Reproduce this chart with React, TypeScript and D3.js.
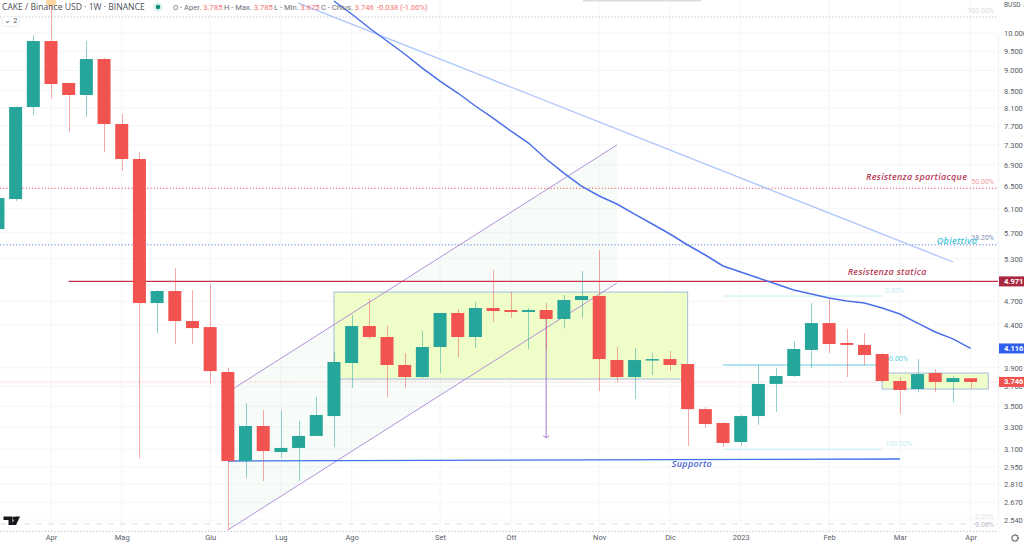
import * as d3 from "d3";
import { useEffect, useRef } from "react";

const WIDTH = 1024;
const HEIGHT = 545;
const PANE_RIGHT = 998;
const PANE_BOTTOM = 532;

// weekly candles, first one is 14 Mar 2022
const weeks = d3.utcMonday.range(new Date(Date.UTC(2022, 2, 14)), new Date(Date.UTC(2023, 3, 4)));

const opens = [
  5.76, 6.267, 8.12, 9.776, 8.687, 8.399, 9.294, 7.74, 7.014, 4.677, 4.838, 4.446, 4.371, 3.852,
  2.999, 3.309, 3.076, 3.111, 3.218, 3.403, 3.951, 4.384, 4.251, 3.929, 3.798, 4.133, 4.548, 4.251,
  4.612, 4.586, 4.561, 4.586, 4.472, 4.717, 4.771, 3.984, 3.798, 3.984, 3.995, 3.94, 3.47, 3.337,
  3.164, 3.403, 3.725, 3.809, 4.099, 4.421, 4.18, 4.157, 4.052, 3.756, 3.672, 3.841, 3.745, 3.785,
];
const highs = [
  6.285, 8.13, 9.944, 11.13, 8.687, 9.776, 9.321, 7.962, 7.154, 4.851, 5.16, 4.851, 4.934, 3.896,
  3.53, 3.461, 3.461, 3.356, 3.59, 4.076, 4.523, 4.729, 4.384, 4.064, 4.323, 4.548, 4.599, 4.69,
  5.132, 4.824, 4.612, 4.677, 4.784, 5.118, 5.43, 4.133, 4.122, 4.064, 4.087, 3.94, 3.49, 3.346,
  3.413, 3.929, 3.896, 4.204, 4.677, 4.744, 4.35, 4.299, 4.064, 3.798, 3.995, 3.885, 3.809, 3.785,
];
const lows = [
  5.76, 6.232, 7.939, 8.328, 7.568, 7.895, 7.154, 6.781, 3.024, 4.299, 4.168, 4.168, 3.725, 2.47,
  2.858, 2.835, 3.024, 2.835, 3.218, 3.12, 3.683, 4.227, 3.59, 3.683, 3.787, 3.841, 4.017, 4.122,
  4.433, 4.484, 4.11, 4.099, 4.359, 4.484, 3.651, 3.735, 3.571, 3.82, 3.862, 3.128, 3.291, 3.12,
  3.128, 3.318, 3.442, 3.798, 3.896, 4.064, 3.798, 3.929, 3.745, 3.422, 3.641, 3.641, 3.54, 3.675,
];
const closes = [
  6.285, 8.12, 9.776, 8.663, 8.399, 9.294, 7.74, 7.014, 4.677, 4.838, 4.446, 4.359, 3.862, 2.999,
  3.309, 3.084, 3.111, 3.218, 3.413, 3.962, 4.384, 4.251, 3.929, 3.798, 4.133, 4.548, 4.251, 4.612,
  4.573, 4.561, 4.586, 4.472, 4.717, 4.771, 3.995, 3.798, 3.984, 3.995, 3.929, 3.47, 3.328, 3.155,
  3.403, 3.725, 3.809, 4.11, 4.421, 4.168, 4.157, 4.041, 3.756, 3.662, 3.83, 3.745, 3.787, 3.746,
];

// moving average, starts at week 19
const maStart = 19;
const maValues = [
  10.942, 10.549, 10.142, 9.777, 9.426, 9.061, 8.736, 8.446, 8.143, 7.871, 7.59, 7.337, 7.015,
  6.743, 6.501, 6.321, 6.18, 6.008, 5.842, 5.68, 5.507, 5.354, 5.191, 5.103, 5.018, 4.934, 4.851,
  4.797, 4.744, 4.703, 4.677, 4.612, 4.535, 4.421, 4.311, 4.228, 4.116,
];

const priceTicks = [
  10, 9.5, 9, 8.5, 8.1, 7.7, 7.3, 6.9, 6.5, 6.1, 5.7, 5.3, 4.7, 4.4, 3.9, 3.7, 3.5, 3.3, 3.1, 2.95,
  2.81, 2.67, 2.54,
];
const monthLabels = ["Apr", "Mag", "Giu", "Lug", "Ago", "Set", "Ott", "Nov", "Dic", "2023", "Feb", "Mar", "Apr"];
const monthWeeks = [3, 7, 12, 16, 20, 25, 29, 34, 38, 42, 47, 51, 55];

const fibDotted = [
  { price: 10.46, color: "#b9bdc9", label: "100.00%", labelColor: "#d9dbe1", dy: -6 },
  { price: 6.46, color: "#e8505b", label: "50.00%", labelColor: "#ef9aa3", dy: -6 },
  { price: 5.51, color: "#5c7fd8", label: "38.20%", labelColor: "#7f93b8", dy: -7 },
  { price: 2.46, color: "#b9bdc9", label: "", labelColor: "", dy: 0 },
];
const shortFib = [
  { price: 4.77, color: "#c4eef5", width: 1, label: "0.00%", labelColor: "#c4eef5", dy: -5 },
  { price: 3.929, color: "#5fd0de", width: 1.2, label: "60.00%", labelColor: "#5fd0de", dy: -6 },
  { price: 3.1, color: "#c4eef5", width: 1, label: "100.00%", labelColor: "#c4eef5", dy: -5 },
];
const notes = [
  { text: "Resistenza spartiacque", week: 47, px: 37, price: 6.65, color: "#b63c55" },
  { text: "Resistenza statica", week: 45, px: 54, price: 5.09, color: "#b63c55" },
  { text: "Obiettivo", week: 53, px: 1.5, price: 5.56, color: "#45c4d8" },
  { text: "Supporto", week: 37, px: 19.5, price: 2.97, color: "#4a62cc" },
];
const legend = [
  { label: "O - Aper.", value: "3.785", x: 173 },
  { label: "H - Max.", value: "3.785", x: 224 },
  { label: "L - Min.", value: "3.675", x: 274 },
  { label: "C - Chius.", value: "3.746", x: 321 },
];
const priceTags = [
  { price: 4.971, text: "4.971", color: "#a9283f" },
  { price: 4.116, text: "4.116", color: "#2f5fee" },
  { price: 3.746, text: "3.746", color: "#f05350" },
];

const GREEN = "#26a69a";
const RED = "#f05350";
const FONT = "'Open Sans', sans-serif";
const AXIS_FONT = "Roboto, sans-serif";

export default function App() {
  const svgRef = useRef<SVGSVGElement>(null);

  useEffect(() => {
    if (!svgRef.current) return;
    document.body.style.margin = "0";

    const svg = d3.select(svgRef.current);
    svg.selectAll("*").remove();

    const x = d3
      .scaleUtc()
      .domain([weeks[3], weeks[55]])
      .range([51, 970.6]);
    const y = d3.scaleLog().domain([2.54, 10]).range([520, 33]);
    const bodyWidth = 13;

    svg.append("rect").attr("width", WIDTH).attr("height", HEIGHT).attr("fill", "#fff");

    svg
      .append("defs")
      .append("clipPath")
      .attr("id", "pane")
      .append("rect")
      .attr("width", PANE_RIGHT)
      .attr("height", PANE_BOTTOM);
    const pane = svg.append("g").attr("clip-path", "url(#pane)");

    // Grid
    pane
      .selectAll("line.h")
      .data(priceTicks)
      .join("line")
      .attr("x1", 0)
      .attr("x2", PANE_RIGHT)
      .attr("y1", (d) => y(d))
      .attr("y2", (d) => y(d))
      .attr("stroke", "#f5f6f9");
    pane
      .selectAll("line.v")
      .data(monthWeeks)
      .join("line")
      .attr("x1", (d) => x(weeks[d]))
      .attr("x2", (d) => x(weeks[d]))
      .attr("y1", 0)
      .attr("y2", PANE_BOTTOM)
      .attr("stroke", "#f5f6f9");

    // Fib dotted levels
    fibDotted.forEach((f) => {
      pane
        .append("line")
        .attr("x1", 0)
        .attr("x2", PANE_RIGHT)
        .attr("y1", y(f.price))
        .attr("y2", y(f.price))
        .attr("stroke", f.color)
        .attr("stroke-dasharray", "1.2 2");
      pane
        .append("text")
        .attr("x", 994)
        .attr("y", y(f.price) + f.dy)
        .attr("text-anchor", "end")
        .attr("dominant-baseline", "middle")
        .attr("font-family", AXIS_FONT)
        .attr("font-size", 7)
        .attr("fill", f.labelColor)
        .text(f.label);
    });

    // Bottom dashed level
    pane
      .append("line")
      .attr("x1", 0)
      .attr("x2", PANE_RIGHT)
      .attr("y1", y(2.512))
      .attr("y2", y(2.512))
      .attr("stroke", "#dfe1e6")
      .attr("stroke-dasharray", "6 6");
    [
      { p: 2.56, c: "#e3e5ea" },
      { p: 2.5, c: "#b9bdc9" },
    ].forEach((l) => {
      pane
        .append("text")
        .attr("x", 994)
        .attr("y", y(l.p))
        .attr("text-anchor", "end")
        .attr("dominant-baseline", "middle")
        .attr("font-family", AXIS_FONT)
        .attr("font-size", 7)
        .attr("fill", l.c)
        .text("0.00%");
    });

    // Last price line
    pane
      .append("line")
      .attr("x1", 0)
      .attr("x2", PANE_RIGHT)
      .attr("y1", y(3.746))
      .attr("y2", y(3.746))
      .attr("stroke", "#f8b9b8")
      .attr("stroke-dasharray", "1 1.5");

    // Parallel channel fill, under the boxes
    const channelArea = d3
      .area<{ w: Date; top: number; bottom: number }>()
      .x((d) => x(d.w))
      .y0((d) => y(d.bottom))
      .y1((d) => y(d.top));
    const channel = [
      { w: weeks[13], top: 3.641, bottom: 2.47 },
      { w: weeks[35], top: 7.297, bottom: 4.948 },
    ];
    pane
      .append("path")
      .attr("d", channelArea(channel))
      .attr("fill", "rgba(110,190,110,0.05)");

    // Range boxes
    [
      { from: weeks[19], to: weeks[39], top: 4.824, bottom: 3.776 },
      { from: weeks[50], to: d3.utcWeek.offset(weeks[55], 1), top: 3.841, bottom: 3.672 },
    ].forEach((b) => {
      pane
        .append("rect")
        .attr("x", x(b.from))
        .attr("y", y(b.top))
        .attr("width", x(b.to) - x(b.from))
        .attr("height", y(b.bottom) - y(b.top))
        .attr("fill", "#effdc9")
        .attr("stroke", "#a6bbdf")
        .attr("stroke-width", 1);
    });

    ["top", "bottom"].forEach((k) => {
      pane
        .append("line")
        .attr("x1", x(channel[0].w))
        .attr("y1", y(channel[0][k]))
        .attr("x2", x(channel[1].w))
        .attr("y2", y(channel[1][k]))
        .attr("stroke", "#b48fd8")
        .attr("stroke-width", 1);
    });

    // Measure arrow
    const arrowX = x(weeks[31]);
    const arrowEnd = y(3.201);
    pane
      .append("line")
      .attr("x1", arrowX)
      .attr("x2", arrowX)
      .attr("y1", y(4.5))
      .attr("y2", arrowEnd)
      .attr("stroke", "#a878d2")
      .attr("stroke-width", 1);
    pane
      .append("path")
      .attr("d", `M${arrowX - 3},${arrowEnd - 2}L${arrowX},${arrowEnd}L${arrowX + 3},${arrowEnd - 2}`)
      .attr("fill", "none")
      .attr("stroke", "#a878d2");

    // Trend lines
    pane
      .append("line")
      .attr("x1", x(weeks[17]))
      .attr("y1", y(10.88))
      .attr("x2", x(weeks[54]))
      .attr("y2", y(5.25))
      .attr("stroke", "#adc6fb")
      .attr("stroke-width", 1.3);
    pane
      .append("line")
      .attr("x1", x(weeks[4]))
      .attr("y1", y(4.971))
      .attr("x2", PANE_RIGHT)
      .attr("y2", y(4.971))
      .attr("stroke", "#c8324c")
      .attr("stroke-width", 1.3);
    pane
      .append("line")
      .attr("x1", x(weeks[13]))
      .attr("y1", y(2.999))
      .attr("x2", x(weeks[51]))
      .attr("y2", y(3.016))
      .attr("stroke", "#3f74e8")
      .attr("stroke-width", 1.4);

    // Short fib
    shortFib.forEach((f) => {
      pane
        .append("line")
        .attr("x1", x(weeks[41]))
        .attr("x2", x(weeks[50]))
        .attr("y1", y(f.price))
        .attr("y2", y(f.price))
        .attr("stroke", f.color)
        .attr("stroke-width", f.width);
      pane
        .append("text")
        .attr("x", x(weeks[50]) + 3)
        .attr("y", y(f.price) + f.dy)
        .attr("dominant-baseline", "middle")
        .attr("font-family", AXIS_FONT)
        .attr("font-size", 7)
        .attr("fill", f.labelColor)
        .text(f.label);
    });

    // Candles
    const candles = pane
      .selectAll("g.candle")
      .data(weeks)
      .join("g")
      .attr("class", "candle");
    const colorOf = (i: number) => (closes[i] >= opens[i] ? GREEN : RED);
    candles
      .append("line")
      .attr("x1", (d) => Math.round(x(d)) + 0.5)
      .attr("x2", (d) => Math.round(x(d)) + 0.5)
      .attr("y1", (_, i) => y(highs[i]))
      .attr("y2", (_, i) => y(lows[i]))
      .attr("stroke", (_, i) => colorOf(i))
      .attr("stroke-opacity", 0.5);
    candles
      .append("rect")
      .attr("x", (d) => x(d) - bodyWidth / 2)
      .attr("width", bodyWidth)
      .attr("y", (_, i) => y(Math.max(opens[i], closes[i])))
      .attr("height", (_, i) => Math.max(1.5, Math.abs(y(opens[i]) - y(closes[i]))))
      .attr("fill", (_, i) => colorOf(i));

    // Moving average
    const maLine = d3
      .line<number>()
      .x((_, i) => x(weeks[maStart + i]))
      .y((d) => y(d));
    pane
      .append("path")
      .attr("d", maLine(maValues))
      .attr("fill", "none")
      .attr("stroke", "#4a6fe8")
      .attr("stroke-width", 1.5);

    // Notes
    notes.forEach((n) => {
      pane
        .append("text")
        .attr("x", x(weeks[n.week]) + n.px)
        .attr("y", y(n.price))
        .attr("dominant-baseline", "middle")
        .attr("font-family", FONT)
        .attr("font-size", 9)
        .attr("font-style", "italic")
        .attr("font-weight", 600)
        .attr("letter-spacing", 0.3)
        .attr("fill", n.color)
        .text(n.text);
    });

    // Event marker, logo
    pane.append("circle").attr("cx", x(weeks[3])).attr("cy", 2).attr("r", 5).attr("fill", "#fbd6a0");
    pane
      .append("path")
      .attr("d", "M3.5,516.5H12.5V525H8.5V520H3.5ZM20,516.5L16,525H11.5L15.5,516.5Z")
      .attr("fill", "#17181c");
    pane.append("circle").attr("cx", 14.3).attr("cy", 518.3).attr("r", 1.8).attr("fill", "#17181c");

    // Price axis
    const yAxis = svg
      .append("g")
      .attr("transform", `translate(${PANE_RIGHT},0)`)
      .call(
        d3
          .axisRight(y)
          .tickValues(priceTicks)
          .tickFormat((d) => d3.format(".3f")(d as number))
          .tickSize(0)
          .tickPadding(6),
      );
    yAxis.select(".domain").attr("stroke", "#f0f1f4");
    yAxis.selectAll("text").attr("font-family", AXIS_FONT).attr("font-size", 7.5).attr("fill", "#5a5e68");

    // Time axis
    const xAxis = svg
      .append("g")
      .attr("transform", `translate(0,${PANE_BOTTOM})`)
      .call(
        d3
          .axisBottom(x)
          .tickValues(monthWeeks.map((w) => weeks[w]))
          .tickFormat((_, i) => monthLabels[i])
          .tickSize(0)
          .tickPadding(3),
      );
    xAxis.select(".domain").remove();
    xAxis.selectAll("text").attr("font-family", AXIS_FONT).attr("font-size", 7.5).attr("fill", "#5a5e68");

    // Price tags
    priceTags.forEach((t) => {
      svg
        .append("rect")
        .attr("x", PANE_RIGHT + 1)
        .attr("y", y(t.price) - 5)
        .attr("width", WIDTH - PANE_RIGHT - 1)
        .attr("height", 10)
        .attr("fill", t.color);
      svg
        .append("text")
        .attr("x", 1004)
        .attr("y", y(t.price) + 0.5)
        .attr("dominant-baseline", "middle")
        .attr("font-family", AXIS_FONT)
        .attr("font-size", 7.5)
        .attr("font-weight", 700)
        .attr("fill", "#fff")
        .text(t.text);
    });

    svg
      .append("text")
      .attr("x", 1004)
      .attr("y", 5)
      .attr("dominant-baseline", "middle")
      .attr("font-family", AXIS_FONT)
      .attr("font-size", 6.6)
      .attr("fill", "#5a5e68")
      .text("BUSD ⌄");

    // Gear
    svg
      .append("circle")
      .attr("cx", 1015)
      .attr("cy", 538)
      .attr("r", 3)
      .attr("fill", "none")
      .attr("stroke", "#5a5e68")
      .attr("stroke-width", 1.6)
      .attr("stroke-dasharray", "1.4 0.5");

    // Header
    svg
      .append("text")
      .attr("x", 2)
      .attr("y", 8)
      .attr("dominant-baseline", "middle")
      .attr("font-family", FONT)
      .attr("font-size", 8.6)
      .attr("fill", "#4c4f58")
      .text("CAKE / Binance USD · 1W · BINANCE");
    svg.append("circle").attr("cx", 158).attr("cy", 7).attr("r", 4.5).attr("fill", "#d7f0ec");
    svg.append("circle").attr("cx", 158).attr("cy", 7).attr("r", 2.2).attr("fill", "#0f8a78");

    legend.forEach((l) => {
      const legendText = svg
        .append("text")
        .attr("x", l.x)
        .attr("y", 8)
        .attr("dominant-baseline", "middle")
        .attr("font-family", AXIS_FONT)
        .attr("font-size", 7.6);
      legendText.append("tspan").attr("fill", "#6b6f7a").text(`${l.label} `);
      legendText.append("tspan").attr("fill", "#f4736f").text(l.value);
    });
    svg
      .append("text")
      .attr("x", 377)
      .attr("y", 8)
      .attr("dominant-baseline", "middle")
      .attr("font-family", AXIS_FONT)
      .attr("font-size", 7.6)
      .attr("fill", "#f4736f")
      .text("-0.038 (-1.00%)");

    // Collapse button
    svg
      .append("rect")
      .attr("x", 2.5)
      .attr("y", 16.5)
      .attr("width", 17)
      .attr("height", 10)
      .attr("rx", 2)
      .attr("fill", "#fff")
      .attr("stroke", "#eceef2");
    svg
      .append("text")
      .attr("x", 11)
      .attr("y", 21.5)
      .attr("text-anchor", "middle")
      .attr("dominant-baseline", "middle")
      .attr("font-family", AXIS_FONT)
      .attr("font-size", 7.5)
      .attr("fill", "#5a5e68")
      .text("⌄ 2");

    // Leftover toolbar shadow at the top
    svg
      .append("rect")
      .attr("x", 583)
      .attr("y", 0)
      .attr("width", 118)
      .attr("height", 1.5)
      .attr("fill", "#dcdde1");
  }, []);

  return (
    <svg
      ref={svgRef}
      width={WIDTH}
      height={HEIGHT}
      style={{ position: "absolute", left: 0, top: 0, display: "block" }}
    />
  );
}
